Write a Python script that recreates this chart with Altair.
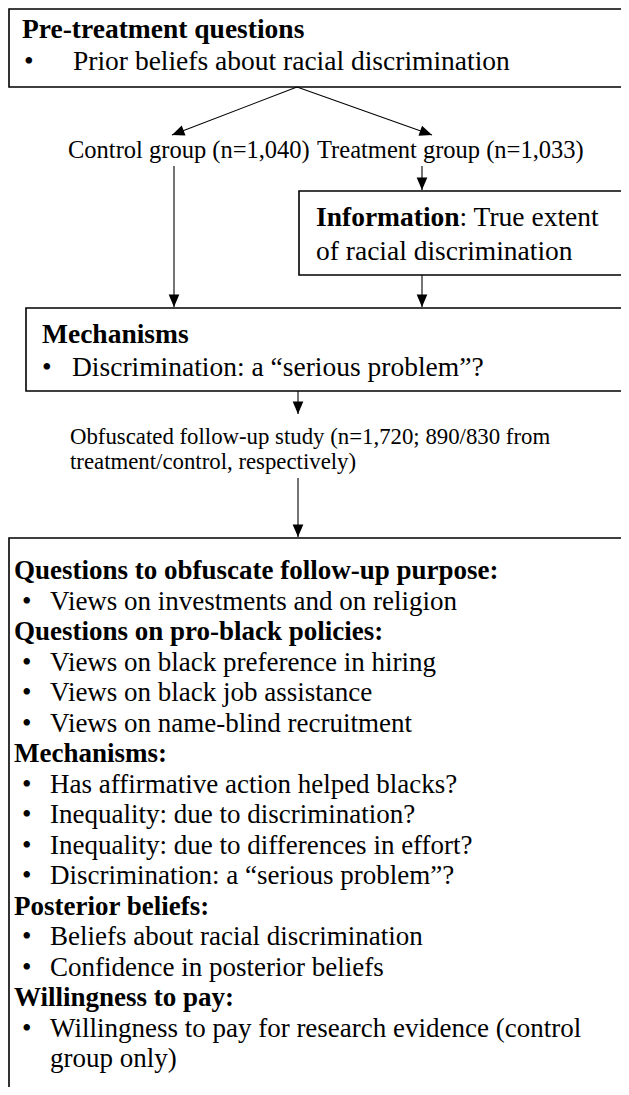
import math
import altair as alt
import pandas as pd

# ---------------- content ----------------
pre_title = "Pre-treatment questions"
pre_items = ["Prior beliefs about racial discrimination"]
group_labels = ["Control group (n=1,040)", "Treatment group (n=1,033)"]
info_bold = "Information"
info_rest = [": True extent", "of racial discrimination"]
mech_title = "Mechanisms"
mech_items = ["Discrimination: a \u201cserious problem\u201d?"]
follow_lines = ["Obfuscated follow-up study (n=1,720; 890/830 from",
                "treatment/control, respectively)"]
section_titles = ["Questions to obfuscate follow-up purpose:",
                  "Questions on pro-black policies:",
                  "Mechanisms:",
                  "Posterior beliefs:",
                  "Willingness to pay:"]
section_items = [
    ["Views on investments and on religion"],
    ["Views on black preference in hiring",
     "Views on black job assistance",
     "Views on name-blind recruitment"],
    ["Has affirmative action helped blacks?",
     "Inequality: due to discrimination?",
     "Inequality: due to differences in effort?",
     "Discrimination: a \u201cserious problem\u201d?"],
    ["Beliefs about racial discrimination",
     "Confidence in posterior beliefs"],
    ["Willingness to pay for research evidence (control",
     "\u00a0group only)"],
]
continuation = {(4, 1)}  # wrapped line without bullet

# ---------------- layout (page pixels) ----------------
BIG = 27.5
LIST = 27
LABEL = 24.5
FOLLOW = 22.8
FONT = "Liberation Serif"

boxes = pd.DataFrame([
    dict(x=9, x2=700, y=9, y2=87),
    dict(x=299, x2=700, y=191, y2=275),
    dict(x=26, x2=700, y=308, y2=391),
    dict(x=9, x2=700, y=538, y2=1200),
])

arrows = pd.DataFrame([
    dict(x=297, y=87, x2=172, y2=135),
    dict(x=297, y=87, x2=432, y2=135),
    dict(x=174, y=166, x2=174, y2=307),
    dict(x=422, y=166, x2=422, y2=190),
    dict(x=422, y=275, x2=422, y2=307),
    dict(x=298, y=391, x2=298, y2=414),
    dict(x=298, y=478, x2=298, y2=537),
])
arrows["angle"] = [
    (math.degrees(math.atan2(-(r.x2 - r.x), r.y2 - r.y)) + 360) % 360
    for r in arrows.itertuples()
]

rows = []
rows.append(dict(t=pre_title, x=22, y=30, s=BIG, b=True))
rows.append(dict(t="\u2022", x=24, y=62, s=BIG, b=False))
rows.append(dict(t=pre_items[0], x=73, y=62, s=BIG, b=False))
rows.append(dict(t=group_labels[0], x=68, y=151, s=LABEL, b=False))
rows.append(dict(t=group_labels[1], x=317, y=151, s=LABEL, b=False))
rows.append(dict(t=info_bold, x=316, y=218, s=BIG, b=True))
rows.append(dict(t=info_rest[0], x=316 + 5.222 * BIG, y=218, s=BIG, b=False))
rows.append(dict(t=info_rest[1], x=316, y=252, s=BIG, b=False))
rows.append(dict(t=mech_title, x=42, y=335, s=BIG, b=True))
rows.append(dict(t="\u2022", x=42, y=368, s=BIG, b=False))
rows.append(dict(t=mech_items[0], x=72, y=368, s=BIG, b=False))
rows.append(dict(t=follow_lines[0], x=70, y=437, s=FOLLOW, b=False))
rows.append(dict(t=follow_lines[1], x=70, y=462, s=FOLLOW, b=False))

y0, step = 571, 30.5
k = 0
for i, title in enumerate(section_titles):
    rows.append(dict(t=title, x=14, y=y0 + k * step, s=LIST, b=True))
    k += 1
    for j, item in enumerate(section_items[i]):
        if (i, j) not in continuation:
            rows.append(dict(t="\u2022", x=22, y=y0 + k * step, s=LIST, b=False))
        rows.append(dict(t=item, x=50, y=y0 + k * step, s=LIST, b=False))
        k += 1
texts = pd.DataFrame(rows)

# ---------------- chart ----------------
PW, PH = 613, 1079
xs = alt.Scale(domain=[8, 8 + PW], nice=False, zero=False)
ys = alt.Scale(domain=[8, 8 + PH], nice=False, zero=False, reverse=True)

box_layer = alt.Chart(boxes).mark_rect(
    fill="white", fillOpacity=0, stroke="black", strokeWidth=1.6, clip=True
).encode(
    x=alt.X("x:Q", scale=xs, axis=None), x2="x2:Q",
    y=alt.Y("y:Q", scale=ys, axis=None), y2="y2:Q",
)

line_layer = alt.Chart(arrows).mark_rule(color="black", strokeWidth=1.1).encode(
    x=alt.X("x:Q", scale=xs, axis=None), x2="x2:Q",
    y=alt.Y("y:Q", scale=ys, axis=None), y2="y2:Q",
)

head_layer = alt.Chart(arrows).mark_point(
    shape="M0,0L-0.43,-1L0.43,-1Z", filled=True, size=620,
    color="black", opacity=1, strokeWidth=0
).encode(
    x=alt.X("x2:Q", scale=xs, axis=None),
    y=alt.Y("y2:Q", scale=ys, axis=None),
    angle=alt.Angle("angle:Q", scale=None),
)

def text_layer(bold):
    return alt.Chart(texts[texts.b == bold]).mark_text(
        align="left", baseline="middle", font=FONT,
        fontWeight="bold" if bold else "normal", color="black"
    ).encode(
        x=alt.X("x:Q", scale=xs, axis=None),
        y=alt.Y("y:Q", scale=ys, axis=None),
        text="t:N",
        size=alt.Size("s:Q", scale=None, legend=None),
    )

chart = alt.layer(
    box_layer, line_layer, head_layer, text_layer(False), text_layer(True)
).properties(
    width=PW, height=PH, padding=0, autosize="none", background="white"
).configure_view(stroke=None)

chart.save("out.html", embed_options={"renderer": "svg", "actions": False})
